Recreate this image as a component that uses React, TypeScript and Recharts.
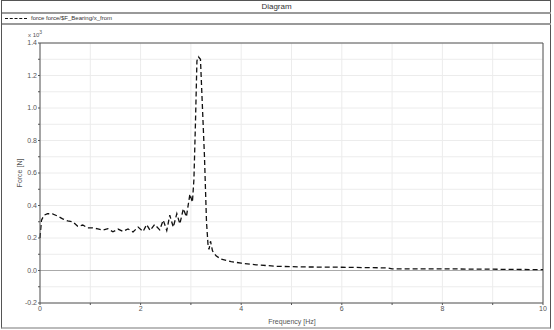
import React from "react";
import {
  LineChart,
  Line,
  XAxis,
  YAxis,
  CartesianGrid,
  ReferenceLine,
} from "recharts";

// frequency in Hz, force in N (axis shows x 10^3)
const freq = [
  0, 0.03, 0.08, 0.15, 0.25, 0.35, 0.45, 0.55, 0.65, 0.75, 0.85, 0.95, 1.05,
  1.15, 1.25, 1.35, 1.45, 1.55, 1.65, 1.75, 1.85, 1.95, 2.05, 2.12, 2.19, 2.28,
  2.38, 2.45, 2.52, 2.58, 2.65, 2.72, 2.78, 2.85, 2.91, 2.98, 3.03, 3.06, 3.09,
  3.12, 3.15, 3.19, 3.23, 3.27, 3.31, 3.34, 3.36, 3.39, 3.43, 3.5, 3.6, 3.8,
  4.0, 4.3, 4.7, 5.2, 6.0, 6.9, 7.0, 8.0, 9.0, 10.0,
];
const force = [
  200, 310, 340, 350, 348, 335, 318, 305, 300, 272, 280, 262, 262, 256, 248,
  257, 238, 255, 240, 256, 237, 267, 240, 283, 246, 283, 250, 310, 246, 340,
  267, 350, 287, 380, 330, 470, 420, 560, 900, 1290, 1315, 1300, 1000, 700,
  300, 160, 130, 180, 120, 90, 70, 55, 45, 35, 26, 22, 20, 16, 10, 10, 8, 5,
];

const xTicks = [0, 1, 2, 3, 4, 5, 6, 7, 8, 9, 10];
const yTicks = [
  -200, -100, 0, 100, 200, 300, 400, 500, 600, 700, 800, 900, 1000, 1100, 1200,
  1300, 1400,
];

const seriesName = "force force/$F_Bearing/x_from";
const data = freq.map((f, i) => ({ f, force: force[i] }));

const font = "'Liberation Sans', Arial, sans-serif";
const tickStyle = { fontSize: 7, fill: "#555", fontFamily: font };

export default function App() {
  return (
    <div style={{ position: "absolute", left: 0, top: 0, width: 554, height: 330, background: "#fff", fontFamily: font }}>
      {/* frame, title bar and legend row */}
      <div
        style={{
          position: "absolute",
          left: 1,
          top: 0,
          width: 548,
          height: 326,
          borderLeft: "1.5px solid #555",
          borderRight: "1.5px solid #555",
          borderTop: "1px solid #555",
          borderBottom: "2px solid #bbb",
        }}
      />
      <div
        style={{
          position: "absolute",
          left: 2,
          top: 1,
          width: 549,
          height: 11,
          borderBottom: "2px solid #999",
          textAlign: "center",
          fontSize: 8,
          lineHeight: "11px",
          color: "#333",
        }}
      >
        Diagram
      </div>
      <div
        style={{
          position: "absolute",
          left: 2,
          top: 14,
          width: 549,
          height: 9,
          borderBottom: "2px solid #999",
          fontSize: 6,
          lineHeight: "9px",
          color: "#333",
          display: "flex",
          alignItems: "center",
        }}
      >
        <span style={{ display: "inline-block", width: 22, marginLeft: 3, marginRight: 4, borderTop: "1.3px dashed #111" }} />
        {seriesName}
      </div>
      <div style={{ position: "absolute", left: 28, top: 29, fontSize: 6, color: "#555" }}>
        x 10<sup style={{ fontSize: 5 }}>3</sup>
      </div>
      <div
        style={{
          position: "absolute",
          left: 19,
          top: 173,
          fontSize: 7,
          color: "#555",
          transform: "translate(-50%, -50%) rotate(-90deg)",
          whiteSpace: "nowrap",
        }}
      >
        Force [N]
      </div>
      <div
        style={{
          position: "absolute",
          left: 292,
          top: 321,
          fontSize: 7,
          color: "#555",
          transform: "translate(-50%, -50%)",
          whiteSpace: "nowrap",
        }}
      >
        Frequency [Hz]
      </div>
      <div style={{ position: "absolute", left: 0, top: 0 }}>
        <LineChart
          width={554}
          height={330}
          data={data}
          margin={{ top: 43, right: 11, bottom: 7, left: 10 }}
        >
          <CartesianGrid stroke="#ececec" />
          <XAxis
            dataKey="f"
            type="number"
            domain={[0, 10]}
            ticks={xTicks}
            tickFormatter={(v: number) => (v % 2 === 0 ? String(v) : "")}
            tick={tickStyle}
            tickSize={2}
            tickMargin={1}
            height={20}
            stroke="#555"
            interval={0}
          />
          <YAxis
            type="number"
            domain={[-200, 1400]}
            ticks={yTicks}
            tickFormatter={(v: number) => (v % 200 === 0 ? (v / 1000).toFixed(1) : "")}
            tick={tickStyle}
            tickSize={2}
            tickMargin={1}
            width={30}
            stroke="#555"
            interval={0}
          />
          <ReferenceLine y={0} stroke="#aaa" />
          <ReferenceLine y={1400} stroke="#555" />
          <ReferenceLine x={10} stroke="#555" />
          <Line
            type="linear"
            dataKey="force"
            name={seriesName}
            stroke="#111"
            strokeWidth={1.3}
            strokeDasharray="5 3"
            dot={false}
            isAnimationActive={false}
          />
        </LineChart>
      </div>
    </div>
  );
}
